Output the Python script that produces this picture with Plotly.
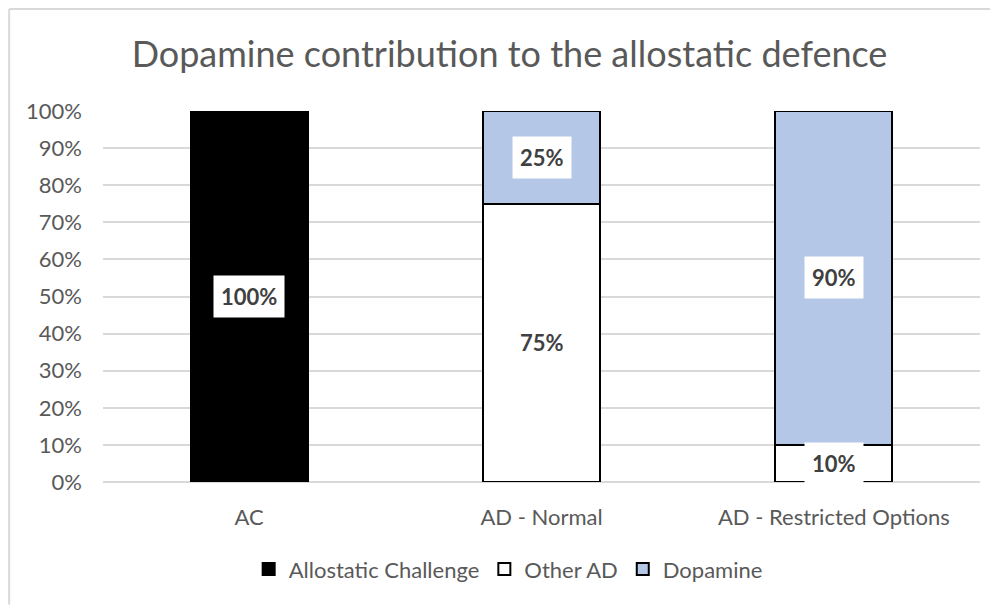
import plotly.graph_objects as go

categories = ["AC", "AD - Normal", "AD - Restricted Options"]
challenge = [1.00, 0, 0]
other_ad = [0, 0.75, 0.10]
dopamine = [0, 0.25, 0.90]

series = [
    ("Allostatic Challenge", challenge, "#000000"),
    ("Other AD", other_ad, "#ffffff"),
    ("Dopamine", dopamine, "#b4c7e7"),
]

fig = go.Figure()
base = [0.0] * len(categories)
annotations = []
for name, vals, color in series:
    fig.add_trace(go.Bar(
        x=categories,
        y=vals,
        name=name,
        width=0.4,
        marker=dict(color=color, line=dict(color="#000000", width=2)),
    ))
    # white-boxed labels at segment centres
    for cat, v, b in zip(categories, vals, base):
        if v > 0:
            annotations.append(dict(
                x=cat, y=b + v / 2, xref="x", yref="y",
                text=f"<b>{v:.0%}</b>", showarrow=False,
                font=dict(family="Lato", size=22, color="#404040"),
                bgcolor="#ffffff", borderpad=7,
            ))
    base = [b + v for b, v in zip(base, vals)]

# chart-area frame (left and top edges visible in the reference)
frame = [
    dict(type="line", xref="paper", yref="paper",
         x0=-0.107, x1=-0.107, y0=-0.33, y1=1.275,
         line=dict(color="#d9d9d9", width=2)),
    dict(type="line", xref="paper", yref="paper",
         x0=-0.107, x1=1.019, y0=1.275, y1=1.275,
         line=dict(color="#d9d9d9", width=2)),
]

fig.update_layout(
    title=dict(text="Dopamine contribution to the allostatic defence",
               font=dict(family="Lato", size=36, color="#595959"),
               x=0.5066, xref="container", xanchor="center",
               y=0.923, yref="container", yanchor="middle"),
    barmode="stack",
    width=990, height=598,
    autosize=False,
    margin=dict(l=95, r=18, t=103, b=124, autoexpand=False),
    paper_bgcolor="white",
    plot_bgcolor="white",
    font=dict(family="Lato", color="#595959", size=22),
    xaxis=dict(showgrid=False, showline=False, ticks="", ticklabelstandoff=20,
               tickfont=dict(size=22), tickangle=0, automargin=False),
    yaxis=dict(range=[0, 1], dtick=0.1, tickformat=".0%", showgrid=True,
               gridcolor="#d9d9d9", gridwidth=1.5, zeroline=True,
               zerolinecolor="#d9d9d9", zerolinewidth=1.5, ticks="",
               ticklabelstandoff=20, tickfont=dict(size=22), automargin=False),
    legend=dict(orientation="h", x=0.462, xanchor="center",
                y=-0.235, yanchor="middle",
                font=dict(size=22), traceorder="normal"),
    annotations=annotations,
    shapes=frame,
)

fig.write_html("out.html")
